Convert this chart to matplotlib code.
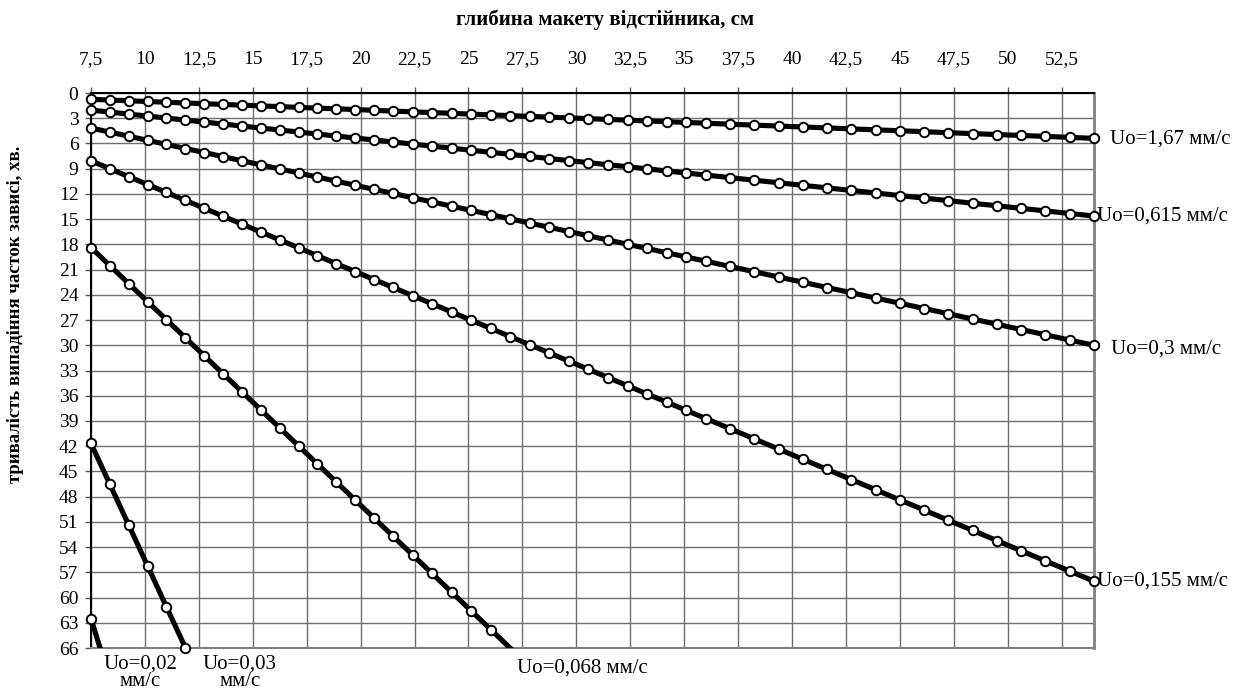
import matplotlib
matplotlib.use('Agg')
import matplotlib.pyplot as plt

plt.rcParams['font.family'] = ['Liberation Serif', 'DejaVu Serif']

# depth of settling tank model, cm
depth = [7.5, 8.375, 9.25, 10.125, 11.0, 11.875, 12.75, 13.625, 14.5, 15.375,
         16.25, 17.125, 18.0, 18.875, 19.75, 20.625, 21.5,
         22.406, 23.313, 24.219, 25.125, 26.031, 26.938, 27.844, 28.75,
         29.656, 30.563, 31.469, 32.375, 33.281, 34.188, 35.094, 36.0,
         37.125, 38.25, 39.375, 40.5, 41.625, 42.75, 43.875, 45.0,
         46.125, 47.25, 48.375, 49.5, 50.625, 51.75, 52.875, 54.0]

# settling time, min
t_167 = [0.75, 0.84, 0.92, 1.01, 1.10, 1.19, 1.27, 1.36, 1.45, 1.53,
         1.62, 1.71, 1.80, 1.88, 1.97, 2.06, 2.15,
         2.24, 2.33, 2.42, 2.51, 2.60, 2.69, 2.78, 2.87,
         2.96, 3.05, 3.14, 3.23, 3.32, 3.41, 3.50, 3.59,
         3.71, 3.82, 3.93, 4.04, 4.15, 4.27, 4.38, 4.49,
         4.60, 4.72, 4.83, 4.94, 5.05, 5.16, 5.28, 5.39]
t_0615 = [2.03, 2.27, 2.51, 2.74, 2.98, 3.22, 3.46, 3.69, 3.93, 4.17,
          4.40, 4.64, 4.88, 5.12, 5.35, 5.59, 5.83,
          6.07, 6.32, 6.56, 6.81, 7.05, 7.30, 7.55, 7.79,
          8.04, 8.28, 8.53, 8.77, 9.02, 9.27, 9.51, 9.76,
          10.06, 10.37, 10.67, 10.98, 11.28, 11.59, 11.89, 12.20,
          12.50, 12.80, 13.11, 13.41, 13.72, 14.02, 14.33, 14.63]
t_03 = [4.17, 4.65, 5.14, 5.63, 6.11, 6.60, 7.08, 7.57, 8.06, 8.54,
        9.03, 9.51, 10.00, 10.49, 10.97, 11.46, 11.94,
        12.45, 12.95, 13.46, 13.96, 14.46, 14.97, 15.47, 15.97,
        16.48, 16.98, 17.48, 17.99, 18.49, 18.99, 19.50, 20.00,
        20.63, 21.25, 21.88, 22.50, 23.13, 23.75, 24.38, 25.00,
        25.63, 26.25, 26.88, 27.50, 28.13, 28.75, 29.38, 30.00]
t_0155 = [8.06, 9.01, 9.95, 10.89, 11.83, 12.77, 13.71, 14.65, 15.59, 16.53,
          17.47, 18.41, 19.35, 20.30, 21.24, 22.18, 23.12,
          24.09, 25.07, 26.04, 27.02, 27.99, 28.97, 29.94, 30.91,
          31.89, 32.86, 33.84, 34.81, 35.79, 36.76, 37.74, 38.71,
          39.92, 41.13, 42.34, 43.55, 44.76, 45.97, 47.18, 48.39,
          49.60, 50.81, 52.02, 53.23, 54.44, 55.65, 56.85, 58.06]
t_0068 = [18.38, 20.53, 22.67, 24.82, 26.96, 29.11, 31.25, 33.39, 35.54, 37.68,
          39.83, 41.97, 44.12, 46.26, 48.41, 50.55, 52.70,
          54.92, 57.14, 59.36, 61.58, 63.80, 66.02, 68.25]
t_003 = [41.67, 46.53, 51.39, 56.25, 61.11, 65.97, 70.83]
t_002 = [62.50, 69.79]

series = [t_167, t_0615, t_03, t_0155, t_0068, t_003, t_002]

x_ticks = [7.5, 10, 12.5, 15, 17.5, 20, 22.5, 25, 27.5, 30, 32.5, 35, 37.5,
           40, 42.5, 45, 47.5, 50, 52.5]
y_ticks = list(range(0, 67, 3))

W, H = 1235, 693
fig = plt.figure(figsize=(W / 100, H / 100), dpi=100)
L, R, T, B = 91, 1094, 93, 648
ax = fig.add_axes([L / W, 1 - B / H, (R - L) / W, (B - T) / H])

ax.set_xlim(7.5, 54)
ax.set_ylim(66, 0)
ax.set_xticks(x_ticks)
ax.set_xticklabels([('%g' % v).replace('.', ',') for v in x_ticks])
ax.set_yticks(y_ticks)
ax.xaxis.tick_top()
ax.tick_params(axis='both', labelsize=14, length=4, width=1, color='#555555')
ax.tick_params(axis='x', pad=14)
ax.tick_params(axis='y', pad=5)
ax.grid(True, color='#6f6f6f', lw=1.0)
ax.set_axisbelow(True)

for s in ['left', 'top']:
    ax.spines[s].set_color('black')
    ax.spines[s].set_linewidth(1.5)
ax.spines['right'].set_color('#7f7f7f')
ax.spines['right'].set_linewidth(2)
ax.spines['bottom'].set_color('#7f7f7f')
ax.spines['bottom'].set_linewidth(1.5)

for t in series:
    x = depth[:len(t)]
    ax.plot(x, t, color='black', lw=3.7, zorder=3, solid_joinstyle='round')
    xm = [a for a, b in zip(x, t) if b <= 66]
    tm = [b for b in t if b <= 66]
    ax.plot(xm, tm, 'o', ms=6.8, mfc='white', mec='black', mew=1.4,
            zorder=4, clip_on=False)

tk = dict(fontsize=15, clip_on=False)
ax.text(54.75, 5.5, 'Uo=1,67 мм/с', ha='left', va='center', **tk)
ax.text(54.12, 14.63, 'Uo=0,615 мм/с', ha='left', va='center', **tk)
ax.text(54.8, 30.5, 'Uo=0,3 мм/с', ha='left', va='center', **tk)
ax.text(54.12, 58.06, 'Uo=0,155 мм/с', ha='left', va='center', **tk)
ax.text(30.3, 68.4, 'Uo=0,068 мм/с', ha='center', va='center', **tk)
ax.text(9.8, 68.95, 'Uo=0,02\nмм/с', ha='center', va='center', linespacing=0.92, **tk)
ax.text(14.4, 68.95, 'Uo=0,03\nмм/с', ha='center', va='center', linespacing=0.92, **tk)

fig.text(605 / W, 1 - 20 / H, 'глибина макету відстійника, см', ha='center',
         va='center', fontsize=15, fontweight='bold')
fig.text(16 / W, 1 - 314 / H, 'тривалість випадіння часток зависі, хв.',
         ha='center', va='center', rotation=90, fontsize=13.5, fontweight='bold')

fig.savefig('out.png', dpi=100)
